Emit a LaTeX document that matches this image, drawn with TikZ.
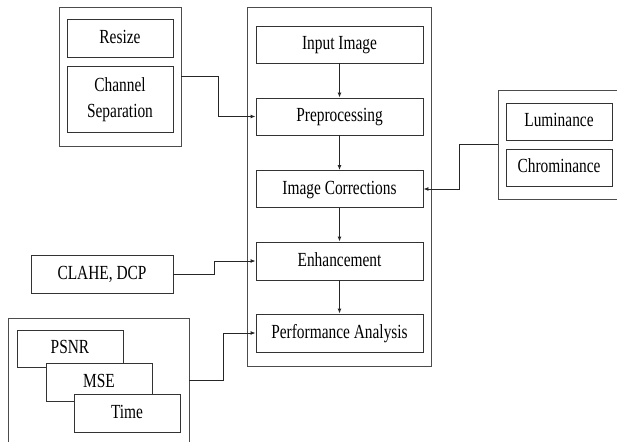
\documentclass[tikz,border=0pt]{standalone}
\usepackage{fontspec}
\usepackage{graphicx}
\setmainfont{Liberation Serif}
\usetikzlibrary{positioning, arrows.meta}

% narrow labels as in the figure
\newcommand{\lbl}[1]{\scalebox{0.77}[1]{\begin{tabular}{@{}c@{}}#1\end{tabular}}}

\tikzset{
  box/.style={draw=black!80, line width=0.9pt, fill=white, inner sep=0pt,
    align=center, font=\fontsize{20}{26}\selectfont},
  group/.style={draw=black!70, line width=0.9pt, inner sep=0pt},
  arr/.style={draw=black!85, line width=0.9pt, -{Latex[length=5pt,width=4pt]}}
}

\begin{document}
\begin{tikzpicture}[x=1pt, y=-1pt]
      \useasboundingbox (0,0) rectangle (617,441);

      % Groups
      \node[group, minimum width=184, minimum height=359] (main) at (339,186.5) {};
      \node[group, minimum width=122, minimum height=139] (prepgrp) at (120,76.5) {};
      \node[group, minimum width=122, minimum height=109] (colgrp) at (559,144.5) {};
      \node[group, minimum width=181, minimum height=125] (metgrp) at (98.5,380.5) {};

      % Main steps
      \node[box, minimum width=167, minimum height=37] (input) at (339.5,44.5) {\lbl{Input Image}};
      \node[box, minimum width=167, minimum height=37] (prep) at (339.5,116.5) {\lbl{Preprocessing}};
      \node[box, minimum width=167, minimum height=37] (corr) at (339.5,189) {\lbl{Image Corrections}};
      \node[box, minimum width=167, minimum height=38] (enh) at (339.5,261) {\lbl{Enhancement}};
      \node[box, minimum width=167, minimum height=38] (perf) at (339.5,333) {\lbl{Performance Analysis}};

      % Side boxes
      \node[box, minimum width=106, minimum height=38] (resize) at (120,38) {\lbl{Resize}};
      \node[box, minimum width=106, minimum height=66] (chan) at (120,99) {\lbl{Channel\\Separation}};
      \node[box, minimum width=106, minimum height=37] (lum) at (559,121.5) {\lbl{Luminance}};
      \node[box, minimum width=106, minimum height=37] (chrom) at (559,167.5) {\lbl{Chrominance}};
      \node[box, minimum width=142, minimum height=38] (clahe) at (102,274) {\lbl{CLAHE, DCP}};
      \node[box, minimum width=106, minimum height=37] (psnr) at (70,348.5) {\lbl{PSNR}};
      \node[box, minimum width=106, minimum height=38] (mse) at (99,382) {\lbl{MSE}};
      \node[box, minimum width=106, minimum height=38] (time) at (127,413) {\lbl{Time}};

      % Arrows
      \draw[arr] (input) -- (prep);
      \draw[arr] (prep) -- (corr);
      \draw[arr] (corr) -- (enh);
      \draw[arr] (enh) -- (perf);
      \draw[arr] (prepgrp.east) -- ++(37,0) |- (prep.west);
      \draw[arr] (colgrp.west) -- ++(-38,0) |- (corr.east);
      \draw[arr] (clahe.east) -- ++(41,0) |- (enh.west);
      \draw[arr] (metgrp.east) -- ++(34,0) |- (perf.west);
  \end{tikzpicture}
\end{document}
